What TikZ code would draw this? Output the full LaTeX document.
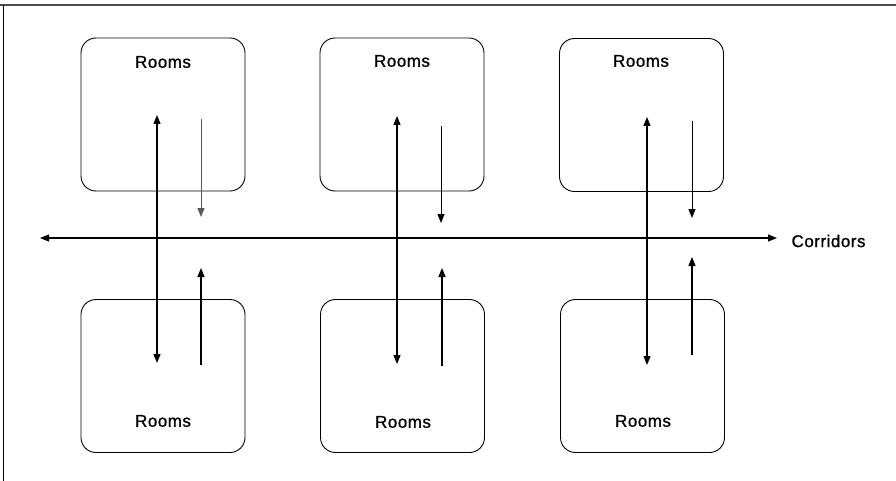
\documentclass[tikz,border=0pt]{standalone}
\usepackage{fontspec}
\setmainfont{Liberation Sans}[LetterSpace=3, FakeBold=1]
\usetikzlibrary{arrows.meta}
\tikzset{
  room/.style={draw, rounded corners=15pt, line width=0.9pt,
               minimum width=164pt, minimum height=153pt, inner sep=0pt},
  roomlabel/.style={font=\fontsize{17}{19}\selectfont},
  access/.style={{Triangle[length=9pt,width=7pt]}-{Triangle[length=9pt,width=7pt]}, line width=1.3pt},
  exit/.style={-{Triangle[length=9pt,width=7pt]}, line width=1pt, draw=black!65},
  enter/.style={-{Triangle[length=9pt,width=7pt]}, line width=1.2pt},
  corridor/.style={{Triangle[length=9pt,width=7pt]}-{Triangle[length=9pt,width=7pt]}, line width=1.1pt}
}

\begin{document}
\begin{tikzpicture}[x=1pt, y=-1pt]
  \useasboundingbox (0,0) rectangle (896,481);
  % frame
  \draw[line width=1.6pt, black!70] (0,5) -- (896,5);
  \draw[line width=1pt] (3.5,5) -- (3.5,481);

  % upper rooms
  \node[room] (r1) at (163,114.5) {};
  \node[room] (r2) at (402,114.5) {};
  \node[room] (r3) at (641.5,115) {};
  % lower rooms
  \node[room] (s1) at (163,376) {};
  \node[room] (s2) at (402.5,376) {};
  \node[room] (s3) at (642.5,376) {};

  \node[roomlabel] (l1) at (163,62) {Rooms};
  \node[roomlabel] (l2) at (402,61) {Rooms};
  \node[roomlabel] (l3) at (641,61) {Rooms};
  \node[roomlabel] (m1) at (163,421) {Rooms};
  \node[roomlabel] (m2) at (403,422) {Rooms};
  \node[roomlabel] (m3) at (643,421) {Rooms};

  % corridor
  \coordinate (cl) at (40,238);
  \coordinate (cr) at (777,238);
  \node[roomlabel, anchor=west] (cor) at (788,241) {Corridors};
  \draw[corridor] (cl) -- (cr);

  % through traffic
  \coordinate (a1) at (157,115);  \coordinate (b1) at (157,363);
  \coordinate (a2) at (397,116);  \coordinate (b2) at (397,364);
  \coordinate (a3) at (647,117);  \coordinate (b3) at (647,365);
  \draw[access] (a1) -- (b1);
  \draw[access] (a2) -- (b2);
  \draw[access] (a3) -- (b3);

  % out of the upper rooms
  \coordinate (d1) at (201,119);  \coordinate (e1) at (201,217);
  \coordinate (d2) at (441,126);  \coordinate (e2) at (441,223);
  \coordinate (d3) at (692,121);  \coordinate (e3) at (692,218);
  \draw[exit] (d1) -- (e1);
  \draw[exit, draw=black] (d2) -- (e2);
  \draw[exit, draw=black] (d3) -- (e3);

  % into the lower rooms
  \coordinate (f1) at (201,365);  \coordinate (g1) at (201,268);
  \coordinate (f2) at (442,366);  \coordinate (g2) at (442,268);
  \coordinate (f3) at (692,355);  \coordinate (g3) at (692,257);
  \draw[enter] (f1) -- (g1);
  \draw[enter] (f2) -- (g2);
  \draw[enter] (f3) -- (g3);
\end{tikzpicture}
\end{document}
